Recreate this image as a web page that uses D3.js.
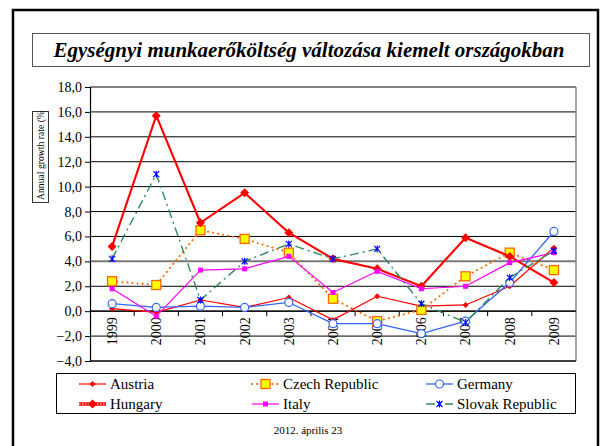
<!DOCTYPE html>
<html><head><meta charset="utf-8">
<script src="https://cdn.jsdelivr.net/npm/d3@7"></script>
<style>
html,body{margin:0;padding:0;background:#fff;}
svg{display:block;}
svg text{font-family:"Liberation Serif","Times New Roman",serif !important;fill:#000;}
</style></head>
<body><svg id="c" width="602" height="446"></svg>
<script>
const years = ["1999","2000","2001","2002","2003","2004","2005","2006","2007","2008","2009"];
const austria = [0.2,-0.1,0.9,0.3,1.1,-0.7,1.2,0.4,0.5,2.0,5.1];
const czech = [2.4,2.1,6.5,5.8,4.7,1.0,-0.8,0.1,2.8,4.7,3.3];
const germany = [0.6,0.3,0.4,0.3,0.7,-1.0,-1.0,-1.8,-0.8,2.3,6.4];
const hungary = [5.2,15.7,7.1,9.5,6.3,4.2,3.4,2.0,5.9,4.4,2.3];
const italy = [1.8,-0.4,3.3,3.4,4.4,1.5,3.2,1.8,2.0,3.9,4.7];
const slovak = [4.2,11.0,0.9,4.0,5.4,4.2,5.0,0.6,-0.9,2.7,4.85];
const yTicks = [-4,-2,0,2,4,6,8,10,12,14,16,18];
const seriesNames = ["Austria","Czech Republic","Germany","Hungary","Italy","Slovak Republic"];
const titleText = "Egységnyi munkaerőköltség változása kiemelt országokban";
const yAxisTitle = "Annual growth rate (%)";
const footer = "2012. április 23";

const svg = d3.select("#c");
// outer frame
svg.append("rect").attr("x",13).attr("y",10).attr("width",585).attr("height",460)
  .attr("fill","none").attr("stroke","#000").attr("stroke-width",2.5);
// title box
svg.append("rect").attr("x",32.5).attr("y",33.5).attr("width",557).attr("height",33)
  .attr("fill","#fff").attr("stroke","#555").attr("stroke-width",1);
svg.append("text").attr("x",309).attr("y",57).attr("text-anchor","middle")
  .attr("font-size",21).attr("font-weight","bold").attr("font-style","italic").text(titleText);

const L=90,R=576,T=87,B=361;
const x = d3.scaleBand().domain(years).range([L,R]);
const y = d3.scaleLinear().domain([-4,18]).range([B,T]);
const cx = d => x(d)+x.bandwidth()/2;

// gridlines
svg.append("g").selectAll("line").data(yTicks).join("line")
  .attr("x1",L).attr("x2",R).attr("y1",d=>y(d)).attr("y2",d=>y(d))
  .attr("stroke",d=>d===4?"#777":"#000").attr("stroke-width",d=>d===4?2:1);
svg.append("line").attr("x1",R).attr("x2",R).attr("y1",T).attr("y2",B).attr("stroke","#888").attr("stroke-width",1.5);
svg.append("line").attr("x1",L).attr("x2",R).attr("y1",B).attr("y2",B).attr("stroke","#000").attr("stroke-width",1);

// y axis
const yAxis = d3.axisLeft(y).tickValues(yTicks).tickSize(5).tickPadding(3)
  .tickFormat(d=>d3.format(".1f")(d).replace(".",","));
const ga = svg.append("g").attr("transform",`translate(${L},0)`).call(yAxis);
ga.attr("font-family",null).attr("font-size",14);
ga.select(".domain").attr("stroke","#000").attr("stroke-width",1.2);
ga.selectAll(".tick line").attr("stroke","#000");
ga.selectAll("text").attr("font-size",14);

// x axis at 0
const y0 = y(0);
svg.append("line").attr("x1",L).attr("x2",R).attr("y1",y0).attr("y2",y0).attr("stroke","#000").attr("stroke-width",1.2);
svg.append("g").selectAll("line").data(years.slice(1)).join("line")
  .attr("x1",d=>x(d)).attr("x2",d=>x(d)).attr("y1",y0).attr("y2",y0+5).attr("stroke","#000");
svg.append("g").selectAll("text").data(years).join("text")
  .attr("transform",d=>`translate(${cx(d)},${y0+6}) rotate(-90)`)
  .attr("text-anchor","end").attr("dy","0.35em").attr("font-size",14).text(d=>d);

// y axis title box
const clip = svg.append("clipPath").attr("id","yt");
clip.append("rect").attr("x",32).attr("y",111).attr("width",17).attr("height",92);
svg.append("rect").attr("x",32.5).attr("y",111.5).attr("width",16).attr("height",91)
  .attr("fill","#fff").attr("stroke","#333").attr("stroke-width",1);
svg.append("g").attr("clip-path","url(#yt)").append("text")
  .attr("transform","translate(41,200) rotate(-90)").attr("dy","0.35em")
  .attr("font-size",9.7).text(yAxisTitle);

// series
const line = d3.line().x((d,i)=>cx(years[i])).y(d=>y(d));
const styles = [
  {data:austria,color:"#ff0000",w:1.2,dash:null,marker:"diamondS"},
  {data:czech,color:"#ff6600",w:2,dash:"0.1,5",cap:"round",marker:"square"},
  {data:germany,color:"#3366ff",w:1.3,dash:null,marker:"circle"},
  {data:hungary,color:"#ff0000",w:2.1,dash:null,marker:"diamondL"},
  {data:italy,color:"#ff00ff",w:1.2,dash:null,marker:"squareS"},
  {data:slovak,color:"#2e8b57",w:1.4,dash:"9,4,2,4",marker:"star"}
];
function marker(g,type,px,py){
  if(type==="diamondS") g.append("path").attr("d",`M${px},${py-3}L${px+3},${py}L${px},${py+3}L${px-3},${py}Z`).attr("fill","#ff0000");
  else if(type==="diamondL") g.append("path").attr("d",`M${px},${py-4.5}L${px+4.5},${py}L${px},${py+4.5}L${px-4.5},${py}Z`).attr("fill","#ff0000");
  else if(type==="square") g.append("rect").attr("x",px-4.5).attr("y",py-4.5).attr("width",9).attr("height",9).attr("fill","#ffff00").attr("stroke","#ff6600").attr("stroke-width",1.3);
  else if(type==="circle") g.append("circle").attr("cx",px).attr("cy",py).attr("r",4).attr("fill","#fff").attr("stroke","#3366ff").attr("stroke-width",1.2);
  else if(type==="squareS") g.append("rect").attr("x",px-2.5).attr("y",py-2.5).attr("width",5).attr("height",5).attr("fill","#ff00ff");
  else if(type==="star"){
    const s=3;
    g.append("path").attr("d",`M${px-s},${py-s}L${px+s},${py+s}M${px-s},${py+s}L${px+s},${py-s}M${px},${py-s-0.5}L${px},${py+s+0.5}`)
      .attr("stroke","#0000ff").attr("stroke-width",1.2);
  }
}
styles.forEach(s=>{
  const g = svg.append("g");
  g.append("path").datum(s.data).attr("d",line).attr("fill","none").attr("stroke",s.color)
    .attr("stroke-width",s.w).attr("stroke-dasharray",s.dash).attr("stroke-linecap",s.cap||"butt")
    .attr("stroke-linejoin","round");
  s.data.forEach((v,i)=>marker(g,s.marker,cx(years[i]),y(v)));
});

// legend
svg.append("rect").attr("x",56.5).attr("y",373.5).attr("width",519).attr("height",40)
  .attr("fill","#fff").attr("stroke","#000").attr("stroke-width",1);
const colX=[79,252,426], rowY=[384,404];
styles.forEach((s,i)=>{
  const lx = colX[i%3], ly=rowY[Math.floor(i/3)];
  const g = svg.append("g");
  if(s.marker==="diamondL"){
    g.append("line").attr("x1",lx).attr("x2",lx+27).attr("y1",ly).attr("y2",ly).attr("stroke","#ff0000").attr("stroke-width",3.5);
    g.append("line").attr("x1",lx).attr("x2",lx+27).attr("y1",ly).attr("y2",ly).attr("stroke","#fff").attr("stroke-width",1).attr("stroke-dasharray","1.5,1.5");
  } else {
    g.append("line").attr("x1",lx).attr("x2",lx+27).attr("y1",ly).attr("y2",ly).attr("stroke",s.color)
      .attr("stroke-width",s.w).attr("stroke-dasharray",s.dash).attr("stroke-linecap",s.cap||"butt");
  }
  marker(g,s.marker,lx+13.5,ly);
  g.append("text").attr("x",lx+31).attr("y",ly).attr("dy","0.35em").attr("font-size",15).text(seriesNames[i]);
});
svg.append("text").attr("x",308).attr("y",430).attr("dy","0.35em").attr("text-anchor","middle").attr("font-size",11).text(footer);
</script></body></html>
